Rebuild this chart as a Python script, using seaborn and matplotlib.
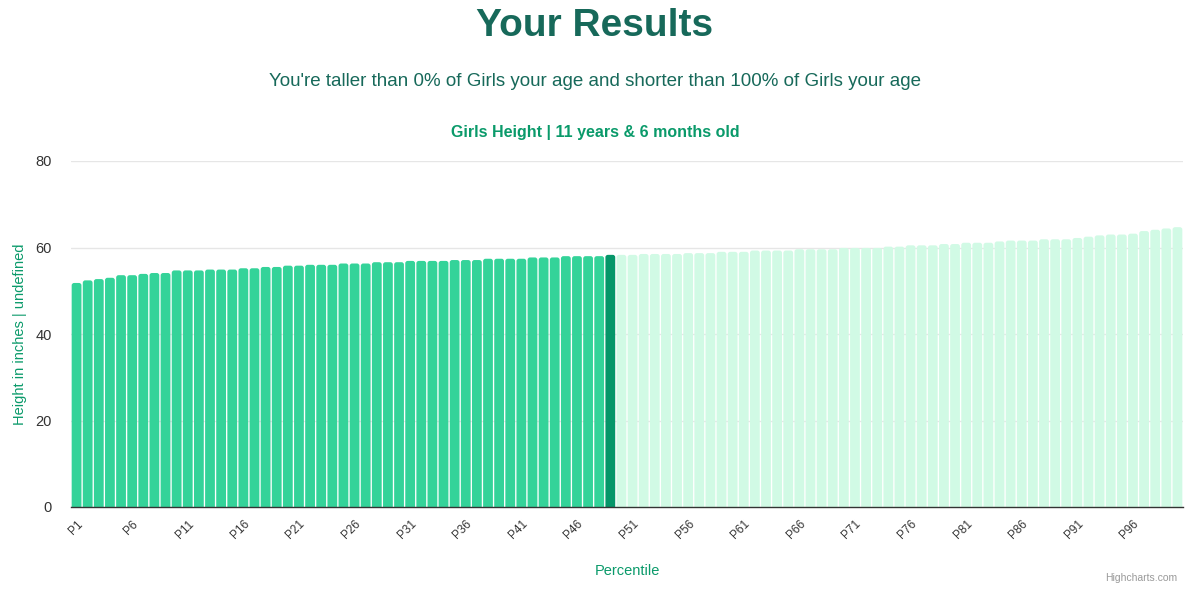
import matplotlib
matplotlib.use("Agg")
import matplotlib.pyplot as plt
from matplotlib.patches import FancyBboxPatch
import seaborn as sns
import pandas as pd

# ---- data ----
percentiles = [f"P{i}" for i in range(1, 101)]
heights = [
    51.8, 52.4, 52.7, 53.0, 53.6, 53.6, 53.9, 54.1, 54.1, 54.7,
    54.7, 54.7, 54.9, 54.9, 54.9, 55.2, 55.2, 55.5, 55.5, 55.8,
    55.8, 56.0, 56.0, 56.0, 56.3, 56.3, 56.3, 56.6, 56.6, 56.6,
    56.9, 56.9, 56.9, 56.9, 57.1, 57.1, 57.1, 57.4, 57.4, 57.4,
    57.4, 57.7, 57.7, 57.7, 58.0, 58.0, 58.0, 58.0, 58.3, 58.3,
    58.3, 58.5, 58.5, 58.5, 58.5, 58.7, 58.7, 58.7, 59.0, 59.0,
    59.0, 59.3, 59.3, 59.3, 59.3, 59.6, 59.6, 59.6, 59.6, 59.9,
    59.9, 59.9, 59.9, 60.2, 60.2, 60.5, 60.5, 60.5, 60.8, 60.8,
    61.1, 61.1, 61.1, 61.4, 61.6, 61.6, 61.6, 61.9, 61.9, 61.9,
    62.2, 62.5, 62.8, 63.0, 63.0, 63.2, 63.8, 64.1, 64.4, 64.7,
]
user_percentile = 49
tick_labels = percentiles[::5]
y_ticks = [0, 20, 40, 60, 80]

below_color = "#34d399"
user_color = "#059669"
above_color = "#d1fae5"
title_color = "#17695a"
accent = "#0a9a6a"

df = pd.DataFrame({"percentile": percentiles, "height": heights})
palette = {}
for i, p in enumerate(percentiles, start=1):
    if i < user_percentile:
        palette[p] = below_color
    elif i == user_percentile:
        palette[p] = user_color
    else:
        palette[p] = above_color

sns.set_style("white")
plt.rcParams["font.family"] = ["Liberation Sans", "DejaVu Sans"]

fig = plt.figure(figsize=(11.9, 5.89), dpi=100)
ax_w_px, ax_h_px = 1183 - 71, 507 - 161
ax = fig.add_axes([71 / 1190, 1 - 507 / 589, ax_w_px / 1190, ax_h_px / 589])

sns.barplot(data=df, x="percentile", y="height", hue="percentile",
            palette=palette, legend=False, width=0.88, saturation=1, ax=ax)

ax.set_xlim(-0.5, len(percentiles) - 0.5)
ax.set_ylim(0, 80)

# round the bar tops a little, like the original
aspect = (80 / ax_h_px) / (len(percentiles) / ax_w_px)
for bar in list(ax.patches):
    x, w, h = bar.get_x(), bar.get_width(), bar.get_height()
    rounded = FancyBboxPatch((x, -2), w, h + 2,
                             boxstyle="round,pad=0,rounding_size=0.22",
                             mutation_aspect=aspect,
                             facecolor=bar.get_facecolor(), edgecolor="none")
    bar.remove()
    ax.add_patch(rounded)

ax.set_yticks(y_ticks)
ax.set_yticklabels([str(v) for v in y_ticks], fontsize=10.5, color="#333333")
ax.yaxis.grid(True, color="#e6e6e6", linewidth=1)
ax.set_axisbelow(True)

ax.set_xticks(range(0, len(percentiles), 5))
ax.set_xticklabels(tick_labels, rotation=45, ha="right", rotation_mode="anchor",
                   fontsize=8.5, color="#333333")
ax.tick_params(axis="x", length=0, pad=8)
ax.tick_params(axis="y", length=0, pad=14)

for side in ["top", "right", "left"]:
    ax.spines[side].set_visible(False)
ax.spines["bottom"].set_color("#333333")
ax.spines["bottom"].set_linewidth(1)
ax.spines["bottom"].set_zorder(5)

ax.set_xlabel("Percentile", fontsize=10.5, color=accent, labelpad=16)
ax.set_ylabel("Height in inches | undefined", fontsize=10.5, color=accent)
ax.yaxis.set_label_coords(-0.040, 0.5)

fig.text(595 / 1190, 1 - 26 / 589, "Your Results", ha="center", va="center",
         fontsize=28, fontweight="bold", color=title_color)
fig.text(595 / 1190, 1 - 82 / 589,
         "You're taller than 0% of Girls your age and shorter than 100% of Girls your age",
         ha="center", va="center", fontsize=13.5, color=title_color)
fig.text(595 / 1190, 1 - 132 / 589, "Girls Height | 11 years & 6 months old",
         ha="center", va="center", fontsize=11.5, fontweight="bold", color=accent)
fig.text(1177 / 1190, 1 - 578 / 589, "Highcharts.com", ha="right", va="center",
         fontsize=7.5, color="#999999")

fig.savefig("out.png", dpi=100)
